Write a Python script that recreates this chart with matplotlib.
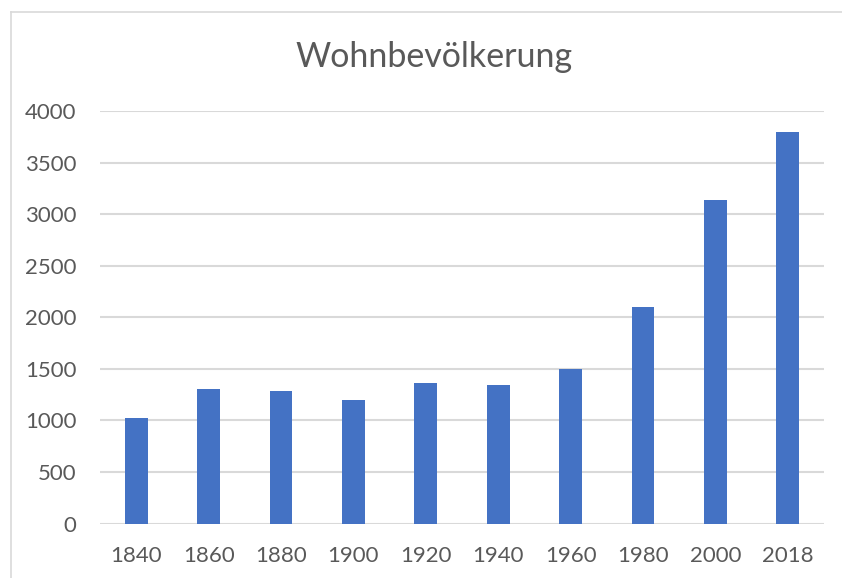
import matplotlib
matplotlib.use("Agg")
import matplotlib.pyplot as plt
from matplotlib.lines import Line2D

years = ["1840", "1860", "1880", "1900", "1920", "1940", "1960", "1980", "2000", "2018"]
population = [1025, 1305, 1285, 1200, 1362, 1340, 1497, 2098, 3140, 3793]
yticks = [0, 500, 1000, 1500, 2000, 2500, 3000, 3500, 4000]
title = "Wohnbevölkerung"

plt.rcParams['font.family'] = ['Lato', 'DejaVu Sans']
text_color = "#595959"
grid_color = "#D9D9D9"
bar_color = "#4472C4"

W, H = 842, 578
fig = plt.figure(figsize=(W / 100, H / 100), dpi=100)
ax = fig.add_axes([100 / W, 1 - 523.5 / H, 724 / W, (523.5 - 111) / H])

x = list(range(len(years)))
ax.bar(x, population, width=0.313, color=bar_color, zorder=3)
ax.set_xlim(-0.5, len(years) - 0.5)
ax.set_ylim(0, 4000)
ax.set_yticks(yticks)
ax.set_yticklabels([str(v) for v in yticks])
ax.set_xticks(x)
ax.set_xticklabels(years)
ax.tick_params(axis='both', length=0, labelsize=16, colors=text_color)
ax.tick_params(axis='y', pad=17)
ax.tick_params(axis='x', pad=16)
for s in ax.spines.values():
    s.set_visible(False)
ax.yaxis.grid(True, color=grid_color, linewidth=1.5, zorder=0)
ax.set_axisbelow(True)

fig.text(434 / W, 1 - 57 / H, title, ha='center', va='center', fontsize=24.5, color=text_color)

# chart border (partially cut off at right/bottom)
fig.add_artist(Line2D([11 / W, 1], [1 - 12 / H, 1 - 12 / H], transform=fig.transFigure, color=grid_color, linewidth=1.2))
fig.add_artist(Line2D([11 / W, 11 / W], [0, 1 - 12 / H], transform=fig.transFigure, color=grid_color, linewidth=1.2))

fig.savefig("out.png", dpi=100)
